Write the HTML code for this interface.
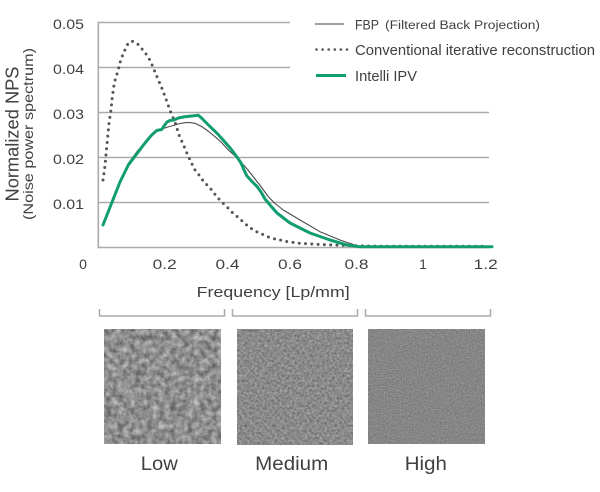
<!DOCTYPE html>
<html><head><meta charset="utf-8"><style>
html,body{margin:0;padding:0;background:#fff;}
svg{display:block;}
text{font-family:"Liberation Sans",Arial,sans-serif;fill:#404040;}
</style></head><body>
<svg width="600" height="492" viewBox="0 0 600 492" xmlns="http://www.w3.org/2000/svg">
<defs>
<filter id="nLow" filterUnits="userSpaceOnUse" x="104" y="329" width="117" height="115" color-interpolation-filters="sRGB">
<feTurbulence type="fractalNoise" baseFrequency="0.17" numOctaves="3" seed="3"/>
<feColorMatrix type="matrix" values="0.55 0 0 0 0.285  0.55 0 0 0 0.285  0.55 0 0 0 0.285  0 0 0 0 1"/>
</filter>
<filter id="nMed" filterUnits="userSpaceOnUse" x="237" y="329" width="116" height="116" color-interpolation-filters="sRGB">
<feTurbulence type="fractalNoise" baseFrequency="0.4" numOctaves="2" seed="7"/>
<feColorMatrix type="matrix" values="0.38 0 0 0 0.35  0.38 0 0 0 0.35  0.38 0 0 0 0.35  0 0 0 0 1"/>
</filter>
<filter id="nHigh" filterUnits="userSpaceOnUse" x="368" y="329" width="117" height="115" color-interpolation-filters="sRGB">
<feTurbulence type="fractalNoise" baseFrequency="0.75" numOctaves="2" seed="11"/>
<feColorMatrix type="matrix" values="0.3 0 0 0 0.375  0.3 0 0 0 0.375  0.3 0 0 0 0.375  0 0 0 0 1"/>
</filter>
</defs>

<!-- gridlines -->
<g stroke="#ababab" stroke-width="1.6" fill="none">
<line x1="98" y1="22.5" x2="290" y2="22.5"/>
<line x1="98" y1="67.5" x2="290" y2="67.5"/>
<line x1="98" y1="112.5" x2="489" y2="112.5"/>
<line x1="98" y1="157.5" x2="489" y2="157.5"/>
<line x1="98" y1="202.5" x2="489" y2="202.5"/>
<line x1="98" y1="247.5" x2="489" y2="247.5"/>
<line x1="98.3" y1="21.7" x2="98.3" y2="248.3"/>
</g>

<!-- y tick labels -->
<g font-size="14" text-anchor="end">
<text x="84" y="29" textLength="31" lengthAdjust="spacingAndGlyphs">0.05</text>
<text x="84" y="74" textLength="31" lengthAdjust="spacingAndGlyphs">0.04</text>
<text x="84" y="119" textLength="31" lengthAdjust="spacingAndGlyphs">0.03</text>
<text x="84" y="164" textLength="31" lengthAdjust="spacingAndGlyphs">0.02</text>
<text x="84" y="209" textLength="31" lengthAdjust="spacingAndGlyphs">0.01</text>
</g>

<!-- x tick labels -->
<g font-size="14" text-anchor="middle">
<text x="83" y="269">0</text>
<text x="164.7" y="269" textLength="24" lengthAdjust="spacingAndGlyphs">0.2</text>
<text x="227.5" y="269" textLength="24" lengthAdjust="spacingAndGlyphs">0.4</text>
<text x="290" y="269" textLength="24" lengthAdjust="spacingAndGlyphs">0.6</text>
<text x="356.5" y="269" textLength="24" lengthAdjust="spacingAndGlyphs">0.8</text>
<text x="423" y="269">1</text>
<text x="485.7" y="269" textLength="24" lengthAdjust="spacingAndGlyphs">1.2</text>
</g>
<text x="196.7" y="297" font-size="15" textLength="153" lengthAdjust="spacingAndGlyphs">Frequency [Lp/mm]</text>

<!-- y axis title -->
<text transform="translate(18.5,134) rotate(-90)" font-size="18" text-anchor="middle" textLength="135" lengthAdjust="spacingAndGlyphs">Normalized NPS</text>
<text transform="translate(33,134) rotate(-90)" font-size="14" text-anchor="middle" textLength="172" lengthAdjust="spacingAndGlyphs">(Noise power spectrum)</text>

<!-- series -->
<polyline fill="none" stroke="#555" stroke-width="3" stroke-linecap="round" stroke-linejoin="round" stroke-dasharray="0 6.3"
points="103,180 105,166 106.3,151 107.7,137 109,123 111,110 112.3,97 114.3,83 117,74 119,67 121,59 123.7,53 127,45 131.7,41 137.7,44 143.7,51 148.3,57 151.7,64 155,72 158.3,80 161,86 163.7,93 166.3,100 171,113 175,122 179,135 184.3,147 187.7,155 191,162 195,170 199,175 201.7,179 207,185 211.7,190 217,197 221.7,202 227,207 231.7,212 237.7,217 243.3,222 249,227 255,231 261.7,234 268.3,237 273,238.5 286.7,241.5 300,243.3 316.7,244.3 340,245.3 360,245.8 380,246.2 400,246.3 488,246.3"/>

<polyline fill="none" stroke="#4a4a4a" stroke-width="1.1" stroke-linejoin="round"
points="103,225 111,204 120,183 128.3,163.5 136.7,152 145,142 153.3,133 161.7,129 168,127 175,125 180,123.5 185,122.7 190,122.5 195,123.3 201.7,126.5 208,131 215,136.7 222,143 228.3,150 235,156 241.7,163 248,170 255,179 262,188 268.3,196.7 275,203.5 283.3,210 300,220 320,231.7 340,240 356.7,245.7 365,246.5 492,246.5"/>

<polyline fill="none" stroke="#119d72" stroke-width="3" stroke-linejoin="round" stroke-linecap="round"
points="103,225 111.7,203 120,182 128.3,165 136.7,154 145,143 151.7,135 156.7,130.5 161.7,129.5 164,126 167,122 170,120.5 174,120 178.3,118 185,116.7 191.7,116 198.3,115.3 202,118.5 209,125.5 217,133.3 224,141 231,149 237,157 241,163 244,170 247,176 252,181.5 257,186.5 261,192 265,199 270,205 277,213 290,223 310,233 330,240 347,245 360,246.8 492,246.8"/>

<!-- legend -->
<line x1="315" y1="24" x2="344" y2="24" stroke="#666" stroke-width="1.2"/>
<text x="355" y="29.5" font-size="13.5" textLength="24" lengthAdjust="spacingAndGlyphs">FBP</text>
<text x="385" y="29" font-size="11.5" textLength="155" lengthAdjust="spacingAndGlyphs">(Filtered Back Projection)</text>
<line x1="316.5" y1="49.5" x2="347" y2="49.5" stroke="#555" stroke-width="2.6" stroke-linecap="round" stroke-dasharray="0 6.1"/>
<text x="355" y="55" font-size="14.5" textLength="240" lengthAdjust="spacingAndGlyphs">Conventional iterative reconstruction</text>
<line x1="316" y1="75.5" x2="346" y2="75.5" stroke="#119d72" stroke-width="3"/>
<text x="355" y="81" font-size="14.5" textLength="62" lengthAdjust="spacingAndGlyphs">Intelli IPV</text>

<!-- brackets -->
<g stroke="#ababab" stroke-width="1.5" fill="none">
<polyline points="99.5,309 99.5,316 224.5,316 224.5,309"/>
<polyline points="232.5,309 232.5,316 357.5,316 357.5,309"/>
<polyline points="365.5,309 365.5,316 490.5,316 490.5,309"/>
</g>

<!-- noise samples -->
<rect x="104" y="329" width="117" height="115" fill="#8e8e8e" filter="url(#nLow)"/>
<rect x="237" y="329" width="116" height="116" fill="#898989" filter="url(#nMed)"/>
<rect x="368" y="329" width="117" height="115" fill="#868686" filter="url(#nHigh)"/>

<g font-size="19" text-anchor="middle">
<text x="159.3" y="470" textLength="37" lengthAdjust="spacingAndGlyphs">Low</text>
<text x="291.7" y="470" textLength="73" lengthAdjust="spacingAndGlyphs">Medium</text>
<text x="425.8" y="470" textLength="42" lengthAdjust="spacingAndGlyphs">High</text>
</g>
</svg>
</body></html>
